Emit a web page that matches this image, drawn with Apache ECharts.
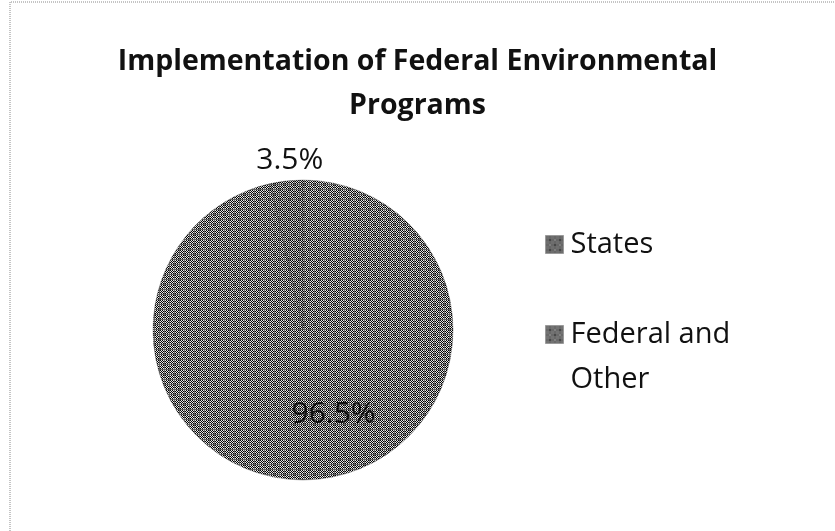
<!DOCTYPE html>
<html>
<head>
<meta charset="utf-8">
<script src="https://cdn.jsdelivr.net/npm/echarts@6/dist/echarts.min.js"></script>
<style>
  html, body { margin: 0; padding: 0; background: #fff; }
  #chart { width: 835px; height: 531px; }
</style>
</head>
<body>
<div id="chart"></div>
<script>
// Share of implementation, percent
const categories = ['States', 'Federal and Other'];
const shares = [3.5, 96.5];
// Legend text; the wrapped name keeps its first line level with the swatch
const legendNames = { 'States': 'States', 'Federal and Other': '\nFederal and\nOther' };

// Fine checkerboard used as the fill for every slice; every fifth row and
// column is a grey band, giving the woven texture of the print
function checkerPattern(dark, light, band) {
  const n = 10;
  const c = document.createElement('canvas');
  c.width = n; c.height = n;
  const g = c.getContext('2d');
  for (let y = 0; y < n; y++) {
    for (let x = 0; x < n; x++) {
      let col = (x + y) % 2 === 0 ? dark : light;
      if (x % 5 === 4 || y % 5 === 4) col = band;
      g.fillStyle = col;
      g.fillRect(x, y, 1, 1);
    }
  }
  return { image: c, repeat: 'repeat' };
}
const fills = [
  checkerPattern('#000000', '#dcdcdc', '#5e5e5e'),
  checkerPattern('#000000', '#e6e6e6', '#606060')
];

const FONT = '"Open Sans", "Noto Sans", sans-serif';
const chart = echarts.init(document.getElementById('chart'), null, { renderer: 'canvas' });

chart.setOption({
  backgroundColor: '#ffffff',
  animation: false,
  title: {
    text: 'Implementation of Federal Environmental\nPrograms',
    left: 'center',
    top: 35,
    textStyle: {
      fontFamily: FONT,
      fontWeight: 'bold',
      fontSize: 28.5,
      lineHeight: 44,
      color: '#111'
    }
  },
  legend: {
    orient: 'vertical',
    left: 540,
    top: 217,
    itemWidth: 18,
    itemHeight: 18,
    itemGap: 0,
    icon: 'rect',
    formatter: name => legendNames[name],
    itemStyle: { borderWidth: 1, borderColor: '#9a9a9a' },
    textStyle: {
      fontFamily: FONT,
      fontSize: 29,
      lineHeight: 45,
      color: '#111',
      padding: [0, 0, 0, 2]
    },
    data: categories.map((name, i) => ({ name, itemStyle: { color: fills[i] } }))
  },
  graphic: [{
    type: 'polyline',
    shape: { points: [[10, 531], [10, 2], [835, 2]] },
    style: { stroke: '#8a8a8a', lineWidth: 1, lineDash: [1, 1], fill: null },
    silent: true
  }],
  series: [{
    type: 'pie',
    center: [303, 330],
    radius: 150,
    startAngle: 90 + 360 * shares[0] / 100,
    clockwise: true,
    avoidLabelOverlap: false,
    itemStyle: { borderColor: 'rgba(0,0,0,0.25)', borderWidth: 1 },
    label: {
      fontFamily: FONT,
      fontSize: 30,
      color: '#111',
      formatter: p => p.value + '%'
    },
    labelLine: { show: false, length: 25, length2: 0 },
    labelLayout: p => p.dataIndex === 0
      ? { align: 'center', verticalAlign: 'middle', dx: 11, dy: 4 }
      : { align: 'center', verticalAlign: 'middle', dx: 22, dy: 7 },
    data: categories.map((name, i) => ({
      name,
      value: shares[i],
      itemStyle: { color: fills[i] },
      label: { position: i === 0 ? 'outside' : 'inside' }
    }))
  }]
});
</script>
</body>
</html>
